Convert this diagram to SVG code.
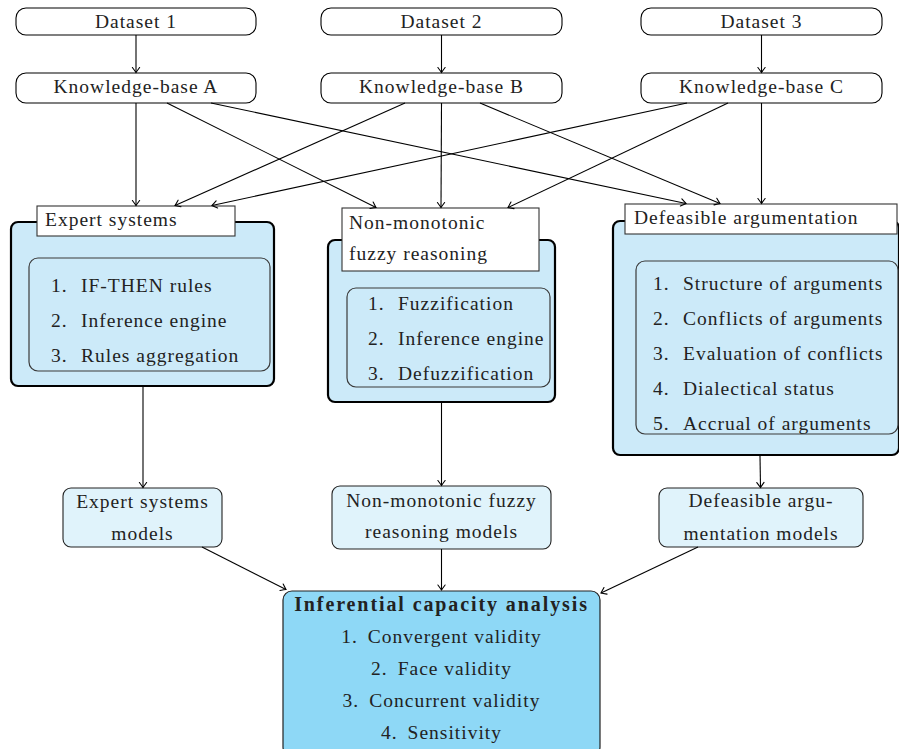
<svg xmlns="http://www.w3.org/2000/svg" width="899" height="749" viewBox="0 0 899 749">
  <defs>
    <marker id="arrow" markerUnits="userSpaceOnUse" markerWidth="12" markerHeight="12" viewBox="-6 -6 12 12" refX="0" refY="0" orient="auto">
      <path d="M -5,-3.6 Q -1.2,-0.8 0,0 Q -1.2,0.8 -5,3.6" fill="none" stroke="#000" stroke-width="1.1" stroke-linecap="round"/>
    </marker>
    <style>
      text { font-family: "Liberation Serif", "Times New Roman", serif; font-size: 19.5px; letter-spacing: 1px; fill: #222; }
      .c { text-anchor: middle; }
      .b { font-weight: bold; font-size: 20px; letter-spacing: 1.9px; }
      .src { fill: #fff; stroke: #000; stroke-width: 1.1; }
      .panel { fill: #cceaf9; stroke: #000; stroke-width: 2.2; }
      .inner { fill: #cceaf9; stroke: #3a3a3a; stroke-width: 1.2; }
      .title { fill: #fff; stroke: #333; stroke-width: 1.1; }
      .model { fill: #e0f3fb; stroke: #222; stroke-width: 1.1; }
      .result { fill: #8ed8f6; stroke: #222; stroke-width: 1.2; }
      .conn line { stroke: #000; stroke-width: 1.1; marker-end: url(#arrow); }
    </style>
  </defs>
  <rect width="899" height="749" fill="#fff"/>

  <!-- datasets -->
  <g id="dataset1"><rect class="src" x="16" y="8" width="240" height="27" rx="10"/><text class="c" x="136" y="28">Dataset 1</text></g>
  <g id="dataset2"><rect class="src" x="321" y="8" width="241" height="27" rx="10"/><text class="c" x="441.5" y="28">Dataset 2</text></g>
  <g id="dataset3"><rect class="src" x="641" y="8" width="241" height="27" rx="10"/><text class="c" x="761.5" y="28">Dataset 3</text></g>

  <!-- knowledge bases -->
  <g id="kbA"><rect class="src" x="16" y="73" width="240" height="30" rx="10"/><text class="c" x="136" y="93">Knowledge-base A</text></g>
  <g id="kbB"><rect class="src" x="321" y="73" width="241" height="30" rx="10"/><text class="c" x="441.5" y="93">Knowledge-base B</text></g>
  <g id="kbC"><rect class="src" x="641" y="73" width="241" height="30" rx="10"/><text class="c" x="761.5" y="93">Knowledge-base C</text></g>

  <!-- expert systems -->
  <g id="expert">
    <rect class="panel" x="11" y="222" width="263" height="164" rx="7"/>
    <rect class="inner" x="29" y="258" width="241" height="113" rx="9"/>
    <rect class="title" x="37" y="206" width="198" height="30"/>
    <text x="45" y="226">Expert systems</text>
    <text x="51" y="292">1.</text><text x="81" y="292">IF-THEN rules</text>
    <text x="51" y="327">2.</text><text x="81" y="327">Inference engine</text>
    <text x="51" y="362">3.</text><text x="81" y="362">Rules aggregation</text>
  </g>

  <!-- non-monotonic fuzzy reasoning -->
  <g id="fuzzy">
    <rect class="panel" x="328" y="240" width="227" height="162" rx="7"/>
    <rect class="inner" x="347" y="288" width="203" height="99" rx="9"/>
    <rect class="title" x="342" y="208" width="197" height="63"/>
    <text x="349" y="229">Non-monotonic</text>
    <text x="349" y="260">fuzzy reasoning</text>
    <text x="368" y="310">1.</text><text x="398" y="310">Fuzzification</text>
    <text x="368" y="345">2.</text><text x="398" y="345">Inference engine</text>
    <text x="368" y="380">3.</text><text x="398" y="380">Defuzzification</text>
  </g>

  <!-- defeasible argumentation -->
  <g id="defeasible">
    <rect class="panel" x="613" y="221" width="286" height="234" rx="7"/>
    <rect class="inner" x="636" y="261" width="262" height="173" rx="9"/>
    <rect class="title" x="625" y="204" width="272" height="30"/>
    <text x="634" y="224">Defeasible argumentation</text>
    <text x="653" y="290">1.</text><text x="683" y="290">Structure of arguments</text>
    <text x="653" y="325">2.</text><text x="683" y="325">Conflicts of arguments</text>
    <text x="653" y="360">3.</text><text x="683" y="360">Evaluation of conflicts</text>
    <text x="653" y="395">4.</text><text x="683" y="395">Dialectical status</text>
    <text x="653" y="430">5.</text><text x="683" y="430">Accrual of arguments</text>
  </g>

  <!-- models -->
  <g id="expertModels">
    <rect class="model" x="63" y="488" width="159" height="59" rx="8"/>
    <text class="c" x="142.5" y="508">Expert systems</text>
    <text class="c" x="142.5" y="540">models</text>
  </g>
  <g id="fuzzyModels">
    <rect class="model" x="332" y="486" width="219" height="63" rx="8"/>
    <text class="c" x="441.5" y="507">Non-monotonic fuzzy</text>
    <text class="c" x="441.5" y="538">reasoning models</text>
  </g>
  <g id="defeasibleModels">
    <rect class="model" x="659" y="488" width="204" height="59" rx="8"/>
    <text class="c" x="761" y="507">Defeasible argu-</text>
    <text class="c" x="761" y="540">mentation models</text>
  </g>

  <!-- analysis -->
  <g id="analysis">
    <rect class="result" x="283" y="591" width="317" height="165" rx="9"/>
    <text class="c b" x="441.5" y="611">Inferential capacity analysis</text>
    <text class="c" x="441.5" y="643"><tspan>1.</tspan><tspan dx="10">Convergent validity</tspan></text>
    <text class="c" x="441.5" y="675"><tspan>2.</tspan><tspan dx="10">Face validity</tspan></text>
    <text class="c" x="441.5" y="707"><tspan>3.</tspan><tspan dx="10">Concurrent validity</tspan></text>
    <text class="c" x="441.5" y="739"><tspan>4.</tspan><tspan dx="10">Sensitivity</tspan></text>
  </g>

  <!-- connectors -->
  <g id="connectors" class="conn">
    <line x1="136" y1="35" x2="136" y2="72.5"/>
    <line x1="441.5" y1="35" x2="441.5" y2="72.5"/>
    <line x1="761.5" y1="35" x2="761.5" y2="72.5"/>

    <line x1="136" y1="103" x2="136" y2="205.5"/>
    <line x1="167" y1="103" x2="376" y2="207.5"/>
    <line x1="211" y1="103" x2="686" y2="203.5"/>

    <line x1="405" y1="103" x2="175" y2="205.5"/>
    <line x1="441.5" y1="103" x2="441" y2="207.5"/>
    <line x1="480" y1="103" x2="720" y2="203.5"/>

    <line x1="687" y1="103" x2="212" y2="205.5"/>
    <line x1="728" y1="103" x2="508" y2="207.5"/>
    <line x1="761.5" y1="103" x2="761.5" y2="203.5"/>

    <line x1="143" y1="387" x2="143" y2="487.5"/>
    <line x1="441.5" y1="403" x2="441.5" y2="485.5"/>
    <line x1="760" y1="456" x2="760.5" y2="487.5"/>

    <line x1="202" y1="547" x2="286" y2="589.5"/>
    <line x1="441.5" y1="549" x2="441.5" y2="590"/>
    <line x1="698" y1="547" x2="601" y2="593"/>
  </g>
</svg>
